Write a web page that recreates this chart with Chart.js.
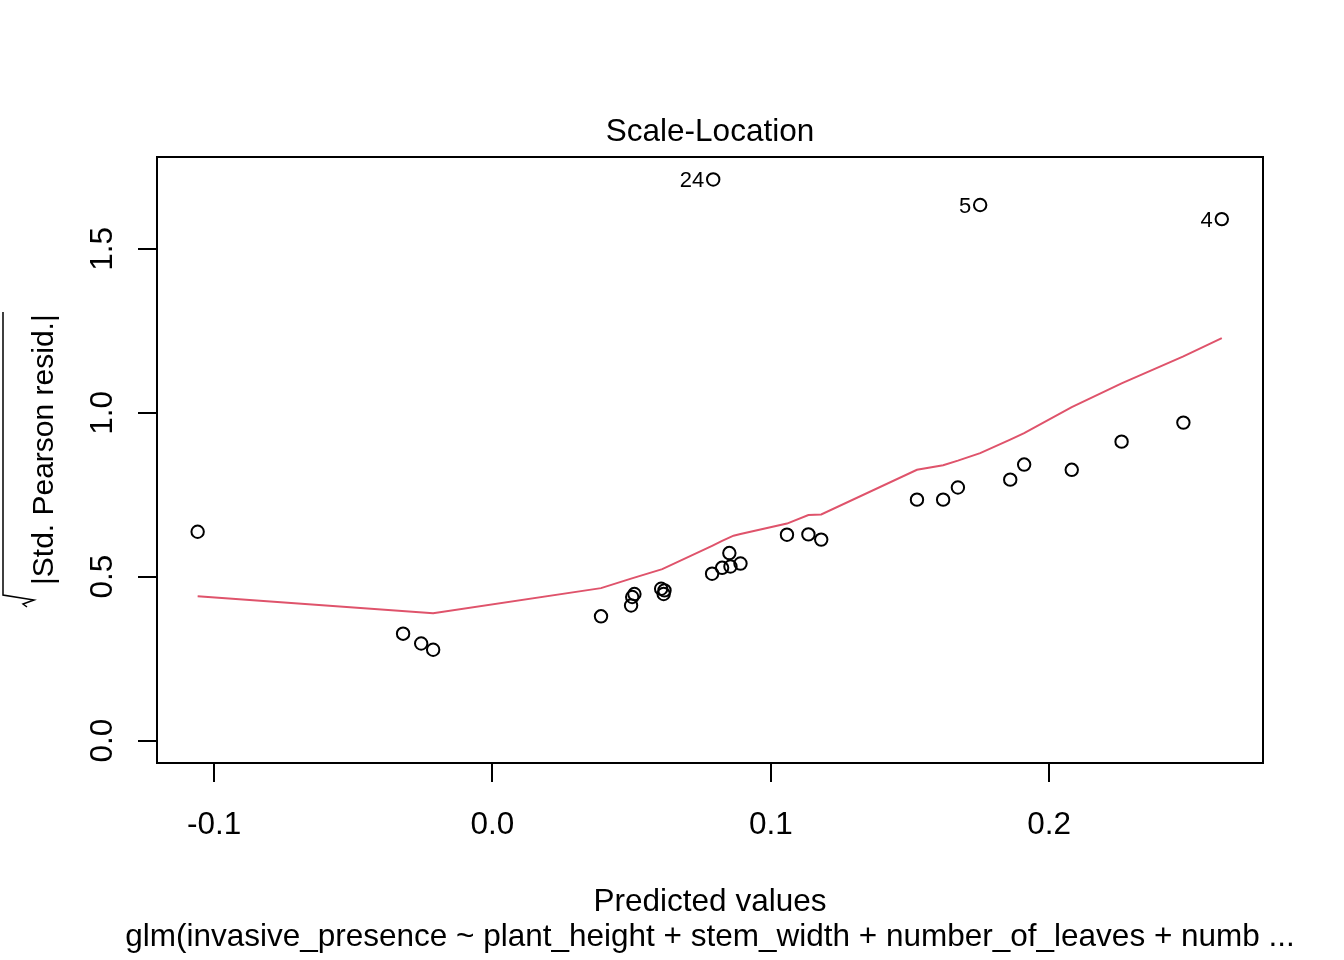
<!DOCTYPE html>
<html>
<head>
<meta charset="utf-8">
<title>Scale-Location</title>
<script src="https://cdn.jsdelivr.net/npm/chart.js@4/dist/chart.umd.min.js"></script>
<style>
  body { margin: 0; background: #fff; }
  canvas { display: block; }
</style>
</head>
<body>
<canvas id="chart" width="1344" height="960"></canvas>
<script>
// fitted values vs sqrt(|std. Pearson resid.|)
const fittedX = [
  -0.1059, -0.0321, -0.0256, -0.0213, 0.0390, 0.0498, 0.0502, 0.0510,
  0.0606, 0.0618, 0.0615, 0.0789, 0.0825, 0.0851, 0.0855, 0.0891,
  0.1058, 0.1135, 0.1181, 0.1525, 0.1619, 0.1672, 0.1860, 0.1910,
  0.2081, 0.2260, 0.2482, 0.0793, 0.1752, 0.2620
];
const sqrtResid = [
  0.637, 0.326, 0.296, 0.277, 0.379, 0.412, 0.438, 0.447,
  0.463, 0.458, 0.447, 0.509, 0.527, 0.572, 0.531, 0.540,
  0.628, 0.629, 0.613, 0.735, 0.735, 0.772, 0.796, 0.842,
  0.826, 0.912, 0.970, 1.712, 1.634, 1.591
];
// labelled observations: index into the arrays above -> case number
const outlierIdx = [27, 28, 29];
const outlierLabels = ['24', '5', '4'];

// smoother (red line)
const smoothX = [
  -0.1059, -0.0213, 0.0390, 0.0498, 0.0610, 0.0789, 0.0825, 0.0866, 0.0891,
  0.1058, 0.1135, 0.1181, 0.1525, 0.1619, 0.1672, 0.1752, 0.1860, 0.1910,
  0.2081, 0.2260, 0.2482, 0.2620
];
const smoothY = [
  0.440, 0.388, 0.465, 0.494, 0.523, 0.594, 0.609, 0.625, 0.630,
  0.662, 0.688, 0.690, 0.826, 0.840, 0.854, 0.877, 0.918, 0.938,
  1.017, 1.090, 1.172, 1.228
];

const xTicks = [-0.1, 0.0, 0.1, 0.2];
const yTicks = [0.0, 0.5, 1.0, 1.5];

const FONT = "'Liberation Sans', Arial, sans-serif";

const rPlotText = {
  id: 'rPlotText',
  afterDraw(chart) {
    const ctx = chart.ctx;
    const area = chart.chartArea;
    const xs = chart.scales.x;
    const ys = chart.scales.y;
    const midX = (area.left + area.right) / 2;

    ctx.save();
    // box
    ctx.strokeStyle = '#000';
    ctx.lineWidth = 2;
    ctx.strokeRect(area.left, area.top, area.right - area.left, area.bottom - area.top);

    ctx.fillStyle = '#000';
    ctx.font = '31.5px ' + FONT;
    ctx.textAlign = 'center';
    ctx.textBaseline = 'alphabetic';

    // x tick labels
    xTicks.forEach(v => {
      ctx.fillText(v.toFixed(1), xs.getPixelForValue(v), 834);
    });

    // y tick labels, rotated like R's default
    yTicks.forEach(v => {
      ctx.save();
      ctx.translate(112, ys.getPixelForValue(v));
      ctx.rotate(-Math.PI / 2);
      ctx.fillText(v.toFixed(1), 0, 0);
      ctx.restore();
    });

    // titles
    ctx.fillText('Scale-Location', midX, 141);
    ctx.fillText('Predicted values', midX, 911);
    ctx.fillText('glm(invasive_presence ~ plant_height + stem_width + number_of_leaves + numb ...', midX, 946);

    // y axis label: sqrt(|Std. Pearson resid.|)
    ctx.save();
    ctx.translate(53, 460);
    ctx.rotate(-Math.PI / 2);
    ctx.font = '30px ' + FONT;
    ctx.textAlign = 'left';
    ctx.fillText('|Std. Pearson resid.|', -125, 0);
    ctx.lineWidth = 1.5;
    ctx.beginPath();
    ctx.moveTo(-147, -26);
    ctx.lineTo(-144, -30);
    ctx.lineTo(-140, -19);
    ctx.lineTo(-135, -50);
    ctx.lineTo(148, -50);
    ctx.stroke();
    ctx.restore();

    // labels for the largest residuals
    const meta = chart.getDatasetMeta(1);
    ctx.font = '22px ' + FONT;
    ctx.textAlign = 'right';
    outlierIdx.forEach((idx, i) => {
      const pt = meta.data[idx];
      ctx.fillText(outlierLabels[i], pt.x - 9, pt.y + 8);
    });
    ctx.restore();
  }
};

const axisCommon = {
  type: 'linear',
  grid: {
    drawOnChartArea: false,
    drawTicks: true,
    tickLength: 19,
    tickColor: '#000',
    tickWidth: 2,
    lineWidth: 2
  },
  border: { display: true, color: '#000', width: 2 }
};

new Chart(document.getElementById('chart'), {
  type: 'scatter',
  data: {
    datasets: [
      {
        type: 'line',
        data: smoothX.map((x, i) => ({ x: x, y: smoothY[i] })),
        borderColor: '#DF536B',
        borderWidth: 2,
        pointRadius: 0,
        fill: false,
        tension: 0,
        order: 0
      },
      {
        data: fittedX.map((x, i) => ({ x: x, y: sqrtResid[i] })),
        pointRadius: 6.2,
        pointBorderWidth: 2,
        pointBorderColor: '#000',
        pointBackgroundColor: 'rgba(0,0,0,0)',
        showLine: false,
        order: 1
      }
    ]
  },
  options: {
    responsive: false,
    devicePixelRatio: 1,
    animation: false,
    layout: { padding: { left: 0, right: 81, top: 157, bottom: 0 } },
    plugins: { legend: { display: false }, tooltip: { enabled: false } },
    scales: {
      x: {
        ...axisCommon,
        position: 'bottom',
        min: -0.1205,
        max: 0.2768,
        ticks: { display: false, includeBounds: false, stepSize: 0.1 },
        afterFit: s => { s.height = 197; }
      },
      y: {
        ...axisCommon,
        position: 'left',
        min: -0.0686,
        max: 1.7805,
        ticks: { display: false, includeBounds: false, stepSize: 0.5 },
        afterFit: s => { s.width = 157; }
      }
    }
  },
  plugins: [rPlotText]
});
</script>
</body>
</html>
